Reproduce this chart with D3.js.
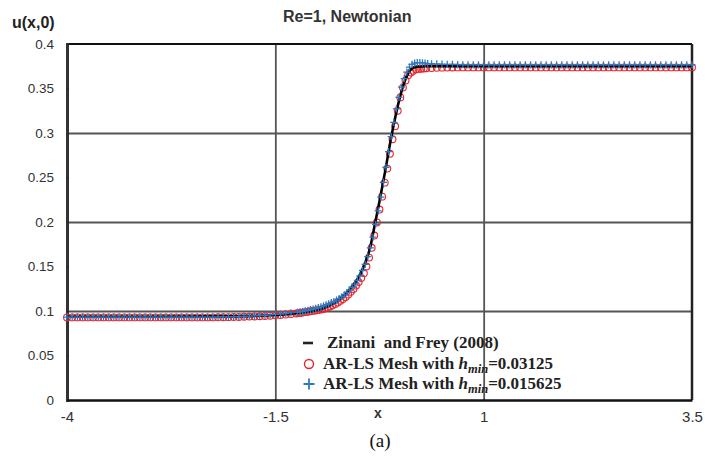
<!DOCTYPE html>
<html>
<head>
<meta charset="utf-8">
<script src="https://cdn.jsdelivr.net/npm/d3@7"></script>
<style>
  body { margin: 0; background: #fff; }
  svg { display: block; }
  .tick text { font-family: "Liberation Sans", Arial, sans-serif; font-size: 13.5px; fill: #333; }
  .xaxis .tick text { font-size: 15px; }
  .legend text { font-family: "Liberation Serif", "Times New Roman", serif; font-weight: bold; font-size: 17px; fill: #222; white-space: pre; }
</style>
</head>
<body>
<svg id="chart" width="705" height="459"></svg>
<script>
// axis ticks
const xTicks = [-4, -1.5, 1, 3.5];
const xTickLabels = ["-4", "-1.5", "1", "3.5"];
const yTicks = [0, 0.05, 0.1, 0.15, 0.2, 0.25, 0.3, 0.35, 0.4];
const yTickLabels = ["0", "0.05", "0.1", "0.15", "0.2", "0.25", "0.3", "0.35", "0.4"];
const xGrid = [-1.5, 1];
const yGrid = [0.1, 0.2, 0.3];

// Zinani and Frey (2008) reference curve
const refX = [-4, -3, -2, -1.5, -1.2, -1.0, -0.88, -0.78, -0.69, -0.6, -0.52, -0.44, -0.36, -0.30,
  -0.24, -0.18, -0.12, -0.06, 0.0, 0.06, 0.1, 0.15, 0.2, 0.3, 1, 2, 3.5];
const refU = [0.0935, 0.0936, 0.0940, 0.0955, 0.0980, 0.1010, 0.1050, 0.1100, 0.1160, 0.1250, 0.1350,
  0.1500, 0.1720, 0.2000, 0.2280, 0.2580, 0.2900, 0.3180, 0.3420, 0.3600, 0.3680, 0.3730, 0.3745,
  0.3750, 0.3750, 0.3750, 0.3750];

// AR-LS mesh nodes: coarse outside the front, refined across it
const mesh = (a, b, h) => d3.range(0, Math.round((b - a) / h) + 1).map(i => a + i * h);

// AR-LS, h_min = 0.03125
const circleLeftU = [0.0928, 0.0928, 0.0928, 0.0928, 0.0928, 0.0928, 0.0928, 0.0928, 0.0928, 0.0928,
  0.0928, 0.0928, 0.0928, 0.0928, 0.0928, 0.0928, 0.0928, 0.0928, 0.0928, 0.0928,
  0.0928, 0.0928, 0.0928, 0.0928, 0.0928, 0.0928, 0.0928, 0.0928, 0.0928,
  0.0929, 0.0930, 0.0931, 0.0932, 0.0933, 0.0935, 0.0937, 0.0939, 0.0941, 0.0944,
  0.0947, 0.0951, 0.0955, 0.0960, 0.0966];
const circleMidU = [0.0972, 0.0976, 0.0980, 0.0985, 0.0990, 0.0995, 0.1000, 0.1004, 0.1008, 0.1014,
  0.1020, 0.1028, 0.1039, 0.1050, 0.1064, 0.1080, 0.1095, 0.1114, 0.1134, 0.1156,
  0.1185, 0.1215, 0.1247, 0.1286, 0.1325, 0.1370, 0.1425, 0.1500, 0.1600, 0.1710,
  0.1848, 0.1995, 0.2140, 0.2285, 0.2442, 0.2600, 0.2767, 0.2930, 0.3075, 0.3250,
  0.3400, 0.3510, 0.3590, 0.3650, 0.3680, 0.3700, 0.3715, 0.3720, 0.3722, 0.3725, 0.3728];
const circleRightU = [0.3730, 0.3732, 0.3734, 0.3735, 0.3736, 0.3737, 0.3737, 0.3737, 0.3737, 0.3737,
  0.3737, 0.3737, 0.3737, 0.3737, 0.3737, 0.3737, 0.3737, 0.3737, 0.3737, 0.3737,
  0.3737, 0.3737, 0.3737, 0.3737, 0.3737, 0.3737, 0.3737, 0.3737, 0.3737, 0.3737,
  0.3737, 0.3737, 0.3737, 0.3737, 0.3737, 0.3737, 0.3737, 0.3737, 0.3737, 0.3737,
  0.3737, 0.3737, 0.3737, 0.3737, 0.3737, 0.3737, 0.3737, 0.3737, 0.3737, 0.3737, 0.3737];
const circleX = [...mesh(-4, -1.3125, 0.0625), ...mesh(-1.25, 0.3125, 0.03125), ...mesh(0.375, 3.5, 0.0625)];
const circleU = [...circleLeftU, ...circleMidU, ...circleRightU];

// AR-LS, h_min = 0.015625
const crossLeftU = [0.0932, 0.0932, 0.0932, 0.0932, 0.0932, 0.0932, 0.0932, 0.0932, 0.0932, 0.0932,
  0.0932, 0.0932, 0.0932, 0.0932, 0.0932, 0.0932, 0.0932, 0.0932, 0.0932, 0.0932,
  0.0932, 0.0932, 0.0932, 0.0932, 0.0932, 0.0932, 0.0932, 0.0932, 0.0932,
  0.0933, 0.0934, 0.0935, 0.0936, 0.0938, 0.0940, 0.0942, 0.0945, 0.0948, 0.0952,
  0.0956, 0.0961, 0.0966, 0.0972, 0.0978];
const crossMidU = [0.0985, 0.0990, 0.0996, 0.1002, 0.1008, 0.1015, 0.1022, 0.1030, 0.1038, 0.1047,
  0.1057, 0.1068, 0.1080, 0.1093, 0.1107, 0.1122, 0.1140, 0.1160, 0.1182, 0.1207,
  0.1235, 0.1267, 0.1303, 0.1345, 0.1395, 0.1455, 0.1525, 0.1610, 0.1710, 0.1830,
  0.1975, 0.2125, 0.2280, 0.2445, 0.2615, 0.2790, 0.2960, 0.3120, 0.3270, 0.3400,
  0.3515, 0.3610, 0.3685, 0.3740, 0.3770, 0.3785, 0.3790, 0.3790, 0.3788, 0.3785, 0.3780];
const crossRightU = [0.3778, 0.3776, 0.3774, 0.3772, 0.3770, 0.3768, 0.3767, 0.3766, 0.3765, 0.3765,
  0.3765, 0.3765, 0.3765, 0.3765, 0.3765, 0.3765, 0.3765, 0.3765, 0.3765, 0.3765,
  0.3765, 0.3765, 0.3765, 0.3765, 0.3765, 0.3765, 0.3765, 0.3765, 0.3765, 0.3765,
  0.3765, 0.3765, 0.3765, 0.3765, 0.3765, 0.3765, 0.3765, 0.3765, 0.3765, 0.3765,
  0.3765, 0.3765, 0.3765, 0.3765, 0.3765, 0.3765, 0.3765, 0.3765, 0.3765, 0.3765, 0.3765];
const crossX = [...mesh(-4, -1.3125, 0.0625), ...mesh(-1.234375, 0.328125, 0.03125), ...mesh(0.375, 3.5, 0.0625)];
const crossU = [...crossLeftU, ...crossMidU, ...crossRightU];

const legendLabels = ["Zinani  and Frey (2008)", "AR-LS Mesh with ", "AR-LS Mesh with "];
const legendValues = ["", "=0.03125", "=0.015625"];

// layout
const mLeft = 67, mRight = 692, mTop = 44, mBottom = 400;
const red = "#e8242b", blue = "#2f78bf";

const svg = d3.select("#chart");
const x = d3.scaleLinear().domain([-4, 3.5]).range([mLeft, mRight]);
const y = d3.scaleLinear().domain([0, 0.4]).range([mBottom, mTop]);

// grid
svg.append("g")
  .attr("transform", `translate(0,${mBottom})`)
  .call(d3.axisBottom(x).tickValues(xGrid).tickSize(-(mBottom - mTop)).tickFormat(""))
  .call(g => g.select(".domain").remove())
  .selectAll("line").attr("stroke", "#555").attr("stroke-width", 1.8);
svg.append("g")
  .attr("transform", `translate(${mLeft},0)`)
  .call(d3.axisLeft(y).tickValues(yGrid).tickSize(-(mRight - mLeft)).tickFormat(""))
  .call(g => g.select(".domain").remove())
  .selectAll("line").attr("stroke", "#555").attr("stroke-width", 1.8);

// frame
svg.append("line").attr("x1", mLeft).attr("x2", mRight).attr("y1", mTop).attr("y2", mTop)
  .attr("stroke", "#111").attr("stroke-width", 2);
svg.append("line").attr("x1", mRight).attr("x2", mRight).attr("y1", mTop).attr("y2", mBottom)
  .attr("stroke", "#222").attr("stroke-width", 2.5);

// axes with labels
svg.append("g")
  .attr("transform", `translate(${mLeft},0)`)
  .call(d3.axisLeft(y).tickValues(yTicks).tickSize(-2).tickPadding(13)
    .tickFormat((d, i) => yTickLabels[i]))
  .call(g => g.select(".domain").attr("stroke", "#333").attr("stroke-width", 3))
  .call(g => g.selectAll(".tick line").attr("stroke", "#222"));
svg.append("g")
  .attr("class", "xaxis")
  .attr("transform", `translate(0,${mBottom})`)
  .call(d3.axisBottom(x).tickValues(xTicks).tickSize(0).tickPadding(11)
    .tickFormat((d, i) => xTickLabels[i]))
  .call(g => g.select(".domain").attr("stroke", "#111").attr("stroke-width", 2.5));

// series: circles, reference line, crosses
const plot = svg.append("g");
plot.selectAll("circle.c1")
  .data(circleX.map((d, i) => [d, circleU[i]]))
  .join("circle")
  .attr("class", "c1")
  .attr("cx", d => x(d[0]))
  .attr("cy", d => y(d[1]))
  .attr("r", 3.4)
  .attr("fill", "none")
  .attr("stroke", red)
  .attr("stroke-width", 1.1);

plot.append("path")
  .datum(refX.map((d, i) => [d, refU[i]]))
  .attr("fill", "none")
  .attr("stroke", "#000")
  .attr("stroke-width", 2.6)
  .attr("d", d3.line().x(d => x(d[0])).y(d => y(d[1])).curve(d3.curveMonotoneX));

const plus = (cx, cy, s) => `M${cx - s},${cy}H${cx + s}M${cx},${cy - s}V${cy + s}`;
plot.selectAll("path.c2")
  .data(crossX.map((d, i) => [d, crossU[i]]))
  .join("path")
  .attr("class", "c2")
  .attr("d", d => plus(x(d[0]), y(d[1]), 3.6))
  .attr("fill", "none")
  .attr("stroke", blue)
  .attr("stroke-width", 1.3);

// legend
const legend = svg.append("g").attr("class", "legend");
const rowY = [343, 364, 384];
legend.append("line").attr("x1", 303).attr("x2", 313).attr("y1", rowY[0]).attr("y2", rowY[0])
  .attr("stroke", "#222").attr("stroke-width", 2.6);
legend.append("circle").attr("cx", 309).attr("cy", rowY[1]).attr("r", 4.5)
  .attr("fill", "none").attr("stroke", red).attr("stroke-width", 1.4);
legend.append("path").attr("d", plus(309, rowY[2], 5.5))
  .attr("stroke", blue).attr("stroke-width", 1.8);

legend.append("text").attr("x", 327).attr("y", rowY[0] + 5).text(legendLabels[0]);
[1, 2].forEach(i => {
  const t = legend.append("text").attr("x", 323).attr("y", rowY[i] + 5);
  t.append("tspan").text(legendLabels[i]);
  t.append("tspan").attr("font-style", "italic").text("h");
  t.append("tspan").attr("font-style", "italic").attr("font-size", 12.5).attr("dy", 4).text("min");
  t.append("tspan").attr("dy", -4).text(legendValues[i]);
});

// titles
svg.append("text").attr("x", 283).attr("y", 22)
  .attr("font-family", "Liberation Sans, Arial, sans-serif").attr("font-weight", "bold")
  .attr("font-size", 16).attr("fill", "#333").text("Re=1, Newtonian");
svg.append("text").attr("x", 12).attr("y", 28)
  .attr("font-family", "Liberation Sans, Arial, sans-serif").attr("font-weight", "bold")
  .attr("font-size", 16).attr("fill", "#222").text("u(x,0)");
svg.append("text").attr("x", 378).attr("y", 418).attr("text-anchor", "middle")
  .attr("font-family", "Liberation Sans, Arial, sans-serif").attr("font-weight", "bold")
  .attr("font-size", 14).attr("fill", "#333").text("x");
svg.append("text").attr("x", 380).attr("y", 447).attr("text-anchor", "middle")
  .attr("font-family", "Liberation Serif, Times New Roman, serif")
  .attr("font-size", 19).attr("fill", "#111").text("(a)");
</script>
</body>
</html>
